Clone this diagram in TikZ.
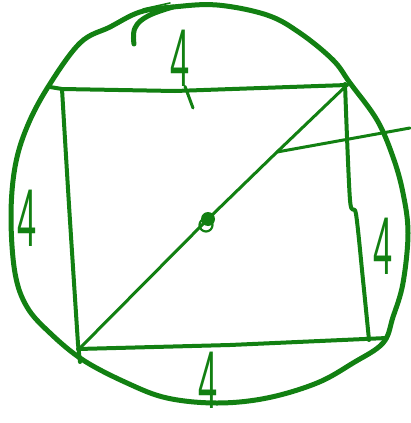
\documentclass[tikz,border=0pt]{standalone}
\usepackage{fontspec}
\setmainfont{Liberation Sans}
\definecolor{pen}{RGB}{18,128,18}
\begin{document}
\begin{tikzpicture}[x=1pt,y=-1pt,line cap=round,line join=round,
  ink/.style={draw=pen},
  rim/.style={ink,line width=5pt},
  edge/.style={ink,line width=4pt},
  thin/.style={ink,line width=3pt},
  digit/.style={text=pen,font=\fontsize{82}{82}\selectfont,xscale=0.42,inner sep=0pt}]
\useasboundingbox (0,0) rectangle (410,423);
% circle
\draw[rim] plot[smooth cycle,tension=0.6] coordinates {
 (173,7) (217,5) (267,15) (300,33) (333,60) (350,83) (377,120) (393,157)
 (403,193) (408,233) (403,283) (393,317) (383,343) (353,363) (317,383)
 (267,398) (217,403) (167,398) (127,383) (83,360) (50,333) (27,307)
 (15,273) (11,217) (15,167) (27,127) (48,87) (80,43) (110,27) (140,12)};
\draw[rim] plot[smooth,tension=0.7] coordinates {(134,44) (135,28) (148,16) (173,7)};
\draw[ink,line width=1.6pt] (143,9) -- (170,3);
% square corners
\coordinate (tl) at (50,87);
\coordinate (tl2) at (62,89);
\coordinate (tr) at (347,85);
\coordinate (br) at (387,338);
\coordinate (bl) at (80,348);
\coordinate (c) at (208,219);
% square
\draw[edge] (tl) -- (tl2) -- (175,91) -- (tr);
\draw[edge] plot[smooth,tension=0.5] coordinates {(tl2) (69,205) (78,344)} -- (80,362);
\draw[edge] (78,349) -- (230,345) -- (br);
\draw[edge] plot[smooth,tension=0.5] coordinates {(345,84) (350,200) (356,214) (363,280) (369,340)};
% diagonal
\draw[thin] (tr) -- (277,152) -- (c) -- (bl);
\coordinate (d) at (277,152);
\coordinate (e) at (410,128);
\draw[thin] (d) -- (e);
% center dot
\fill[pen] (c) circle (7);
\draw[ink,line width=2.2pt] (c) ++(-2,6) circle (6.5);
% labels
\node[digit] (t4) at (180,58) {4};
\draw[thin] (t4.south) ++(5,0) -- (193,108);
\node[digit] (l4) at (27,218) {4};
\node[digit] (r4) at (383,246) {4};
\node[digit] (b4) at (208,380) {4};
\end{tikzpicture}
\end{document}
